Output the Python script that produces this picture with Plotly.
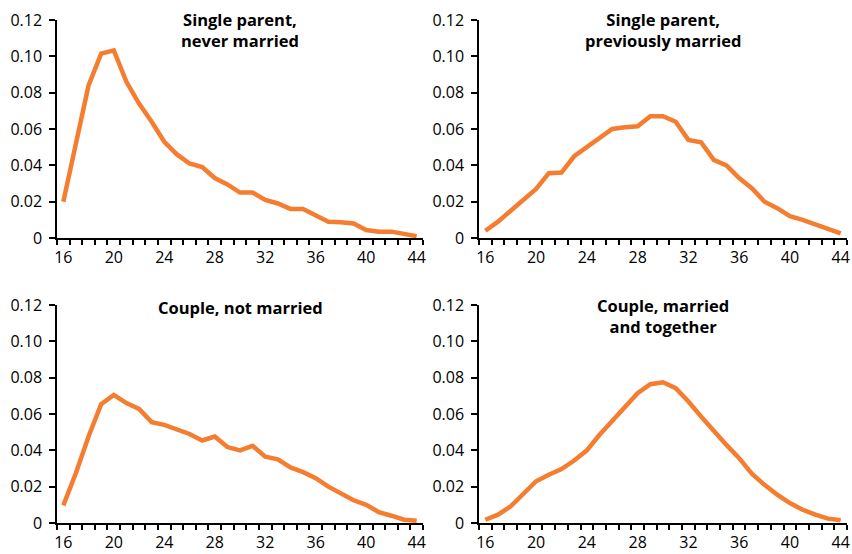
import plotly.graph_objects as go

ages = list(range(16, 45))

single_never_married = [0.020, 0.053, 0.084, 0.1015, 0.1033, 0.086, 0.074, 0.064, 0.053, 0.046,
                        0.041, 0.039, 0.033, 0.0295, 0.025, 0.025, 0.021, 0.019, 0.016, 0.016,
                        0.0123, 0.009, 0.0087, 0.008, 0.0044, 0.0035, 0.0035, 0.002, 0.001]
single_prev_married = [0.004, 0.009, 0.015, 0.021, 0.027, 0.0357, 0.036, 0.045, 0.050, 0.055,
                       0.060, 0.061, 0.0615, 0.067, 0.067, 0.064, 0.054, 0.0527, 0.043, 0.040,
                       0.033, 0.0274, 0.020, 0.0164, 0.012, 0.010, 0.0077, 0.0048, 0.0026]
couple_not_married = [0.0097, 0.0275, 0.0476, 0.0654, 0.0705, 0.066, 0.0628, 0.0555, 0.054, 0.0513,
                      0.049, 0.0454, 0.0476, 0.0418, 0.040, 0.0425, 0.0365, 0.035, 0.0306, 0.028,
                      0.0247, 0.020, 0.0165, 0.0125, 0.010, 0.006, 0.004, 0.0018, 0.0013]
couple_married = [0.0018, 0.0046, 0.0092, 0.0165, 0.023, 0.0266, 0.0297, 0.0344, 0.040, 0.0486,
                  0.056, 0.064, 0.0715, 0.0764, 0.0775, 0.0742, 0.0669, 0.0586, 0.0504, 0.043,
                  0.0357, 0.0271, 0.021, 0.0156, 0.011, 0.0073, 0.0046, 0.0024, 0.0015]

series = [single_never_married, single_prev_married, couple_not_married, couple_married]
titles = ["Single parent,<br>never married",
          "Single parent,<br>previously married",
          "Couple, not married",
          "Couple, married<br>and together"]

y_tickvals = [0, 0.02, 0.04, 0.06, 0.08, 0.10, 0.12]
y_ticktext = ["0", "0.02", "0.04", "0.06", "0.08", "0.10", "0.12"]
x_tickvals = [16, 20, 24, 28, 32, 36, 40, 44]

W, H = 852, 554
LINE_COLOR = "#F47D30"
FONT = "Open Sans"

# pixel boxes: (left, right, top, bottom)
boxes = [(57, 423, 20, 238), (479, 847, 20, 238), (57, 423, 305, 523), (479, 847, 305, 523)]
title_centers = [30, 30, 307.5, 316]

fig = go.Figure()
layout = dict(width=W, height=H, margin=dict(l=0, r=0, t=0, b=0, autoexpand=False),
              paper_bgcolor="white", plot_bgcolor="white", showlegend=False,
              font=dict(family=FONT, size=16, color="black"))
annotations = []
for i, (vals, box) in enumerate(zip(series, boxes)):
    n = i + 1
    sfx = "" if n == 1 else str(n)
    l, r, t, b = box
    fig.add_trace(go.Scatter(x=ages, y=vals, mode="lines",
                             line=dict(color=LINE_COLOR, width=4.5),
                             xaxis=f"x{sfx}", yaxis=f"y{sfx}"))
    layout[f"xaxis{sfx}"] = dict(domain=[l / W, r / W], anchor=f"y{sfx}",
                      range=[15.5, 44.5], tickmode="array", tickvals=x_tickvals,
                      ticks="outside", ticklen=4, tickcolor="rgba(0,0,0,0)",
                      showline=True, linecolor="black", linewidth=1.5,
                      showgrid=False, zeroline=False, automargin=False,
                      tickfont=dict(family=FONT, size=16, color="black"),
                      minor=dict(tickmode="linear", tick0=15.5, dtick=1, ticks="outside",
                                 ticklen=5, tickcolor="black", tickwidth=1.5, showgrid=False),
                      fixedrange=True)
    layout[f"yaxis{sfx}"] = dict(domain=[1 - b / H, 1 - t / H], anchor=f"x{sfx}",
                      range=[0, 0.12], tickmode="array", tickvals=y_tickvals, ticktext=y_ticktext,
                      ticks="outside", ticklen=6, tickcolor="black", tickwidth=1.5,
                      showline=True, linecolor="black", linewidth=1.5,
                      showgrid=False, zeroline=False, automargin=False,
                      tickfont=dict(family=FONT, size=16, color="black"),
                      ticklabelstandoff=4,
                      fixedrange=True)
    cx = (l + r) / 2
    annotations.append(dict(text=f"<b>{titles[i]}</b>", x=cx / W, y=1 - title_centers[i] / H,
                            xref="paper", yref="paper", xanchor="center", yanchor="middle",
                            showarrow=False,
                            font=dict(family=FONT, size=16.5, color="black")))
layout["annotations"] = annotations
fig.update_layout(**layout)
fig.write_html("out.html", config={"displayModeBar": False},
               post_script="document.body.style.margin='0';document.body.style.overflow='hidden';")
